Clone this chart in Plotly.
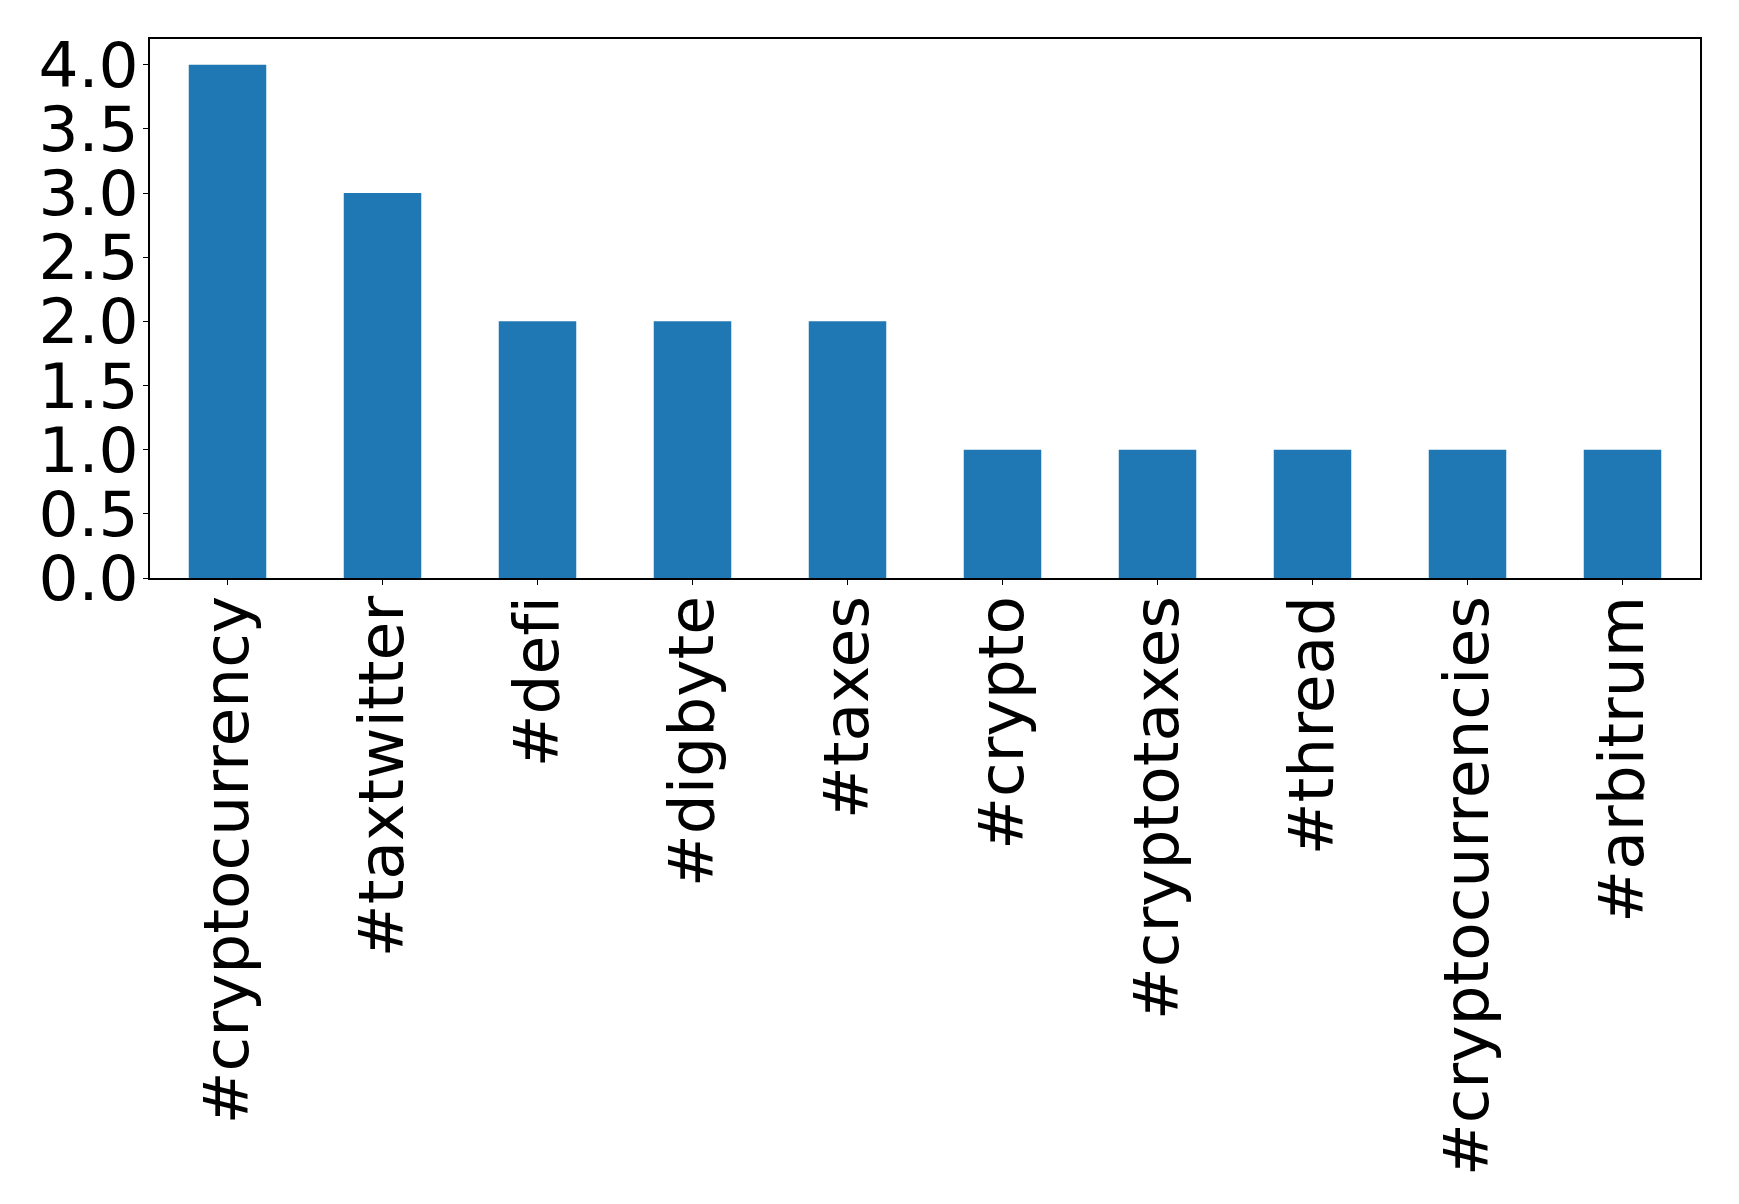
import plotly.graph_objects as go

hashtags = ["#cryptocurrency", "#taxtwitter", "#defi", "#digbyte", "#taxes",
            "#crypto", "#cryptotaxes", "#thread", "#cryptocurrencies", "#arbitrum"]
counts = [4, 3, 2, 2, 2, 1, 1, 1, 1, 1]
y_ticks = [0.0, 0.5, 1.0, 1.5, 2.0, 2.5, 3.0, 3.5, 4.0]

# avoid the "fi" ligature (reference shows separate glyphs)
x_ticktext = [h.replace("fi", "f\u200ci") for h in hashtags]

fig = go.Figure()
fig.add_trace(go.Bar(x=hashtags, y=counts, marker=dict(color="#1f77b4", line=dict(width=0))))

font = dict(family="DejaVu Sans", size=63, color="black")
fig.update_layout(
    width=1739, height=1204,
    margin=dict(l=142, r=47, t=31, b=634, pad=0),
    paper_bgcolor="white", plot_bgcolor="white",
    bargap=0.5, showlegend=False,
    font=font,
)
fig.update_xaxes(
    type="category", range=[-0.5, 9.5], tickangle=-90,
    tickvals=hashtags, ticktext=x_ticktext,
    showline=True, linecolor="black", linewidth=1.5, mirror=True,
    ticks="outside", ticklen=5, tickcolor="black", tickfont=font,
    ticklabelstandoff=-14,
    showgrid=False, zeroline=False,
)
fig.update_yaxes(
    range=[0, 4.2], tickvals=y_ticks, ticktext=[f"{v:.1f}" for v in y_ticks],
    showline=True, linecolor="black", linewidth=1.5, mirror=True,
    ticks="outside", ticklen=5, tickcolor="black", tickfont=font,
    ticklabelstandoff=-8,
    showgrid=False, zeroline=False,
)
fig.write_html("out.html")
